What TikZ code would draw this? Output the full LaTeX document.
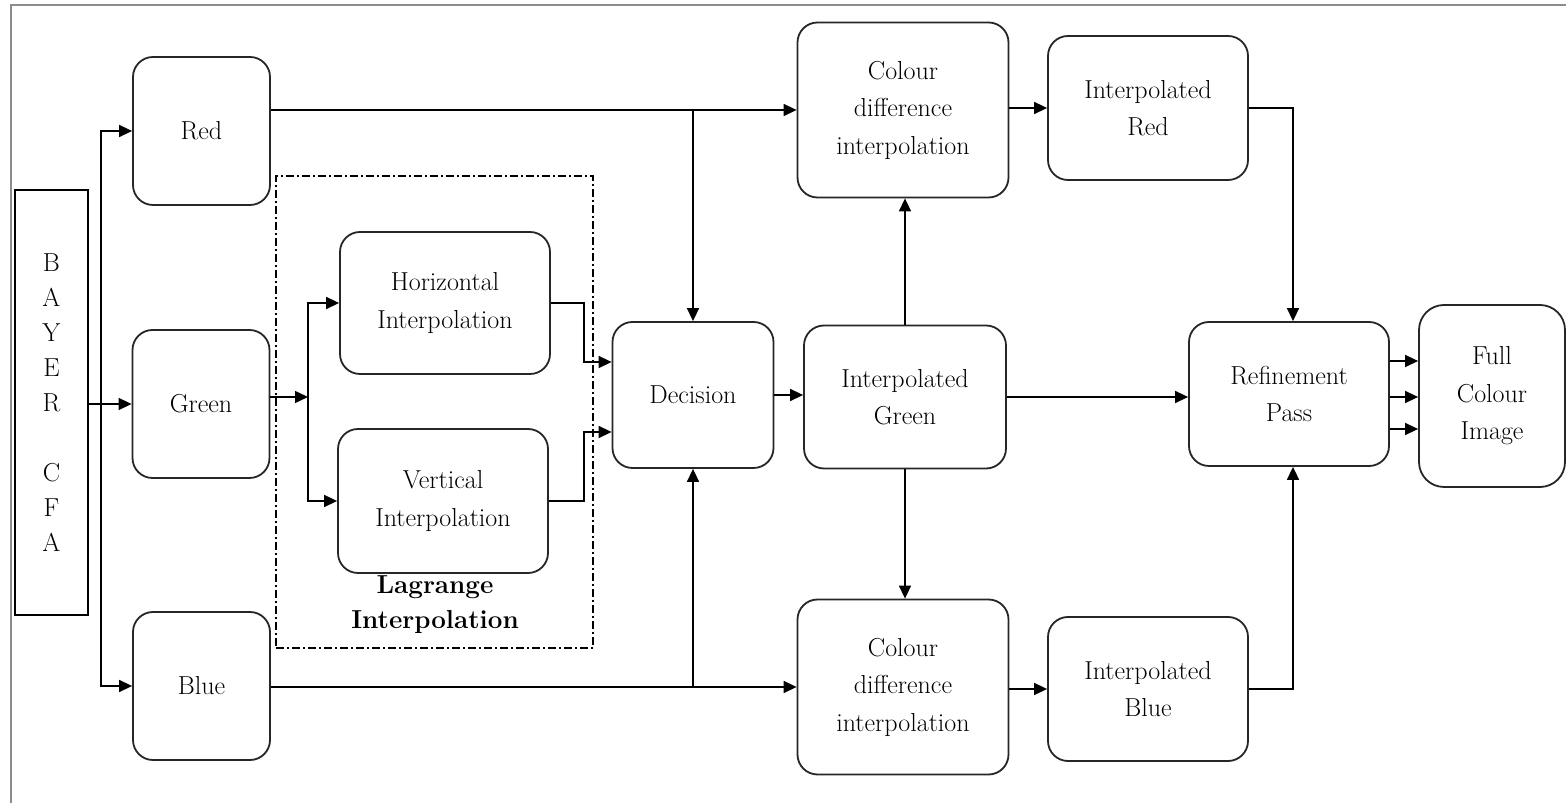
\documentclass[tikz,border=0pt]{standalone}
\usepackage{tikz}
\usetikzlibrary{
    positioning,
    arrows.meta
}
\tikzset{
    >={Triangle[length=13pt,width=12pt]},
    block/.style={
        draw=black!85,
        line width=1.8pt,
        rounded corners=20pt,
        align=center,
        inner sep=2pt,
        font=\fontsize{26pt}{37.5pt}\selectfont
    },
    channel/.style={block, minimum width=137pt, minimum height=148pt},
    interp/.style={block, minimum width=200pt, minimum height=144pt},
    colourdiff/.style={block, minimum width=211pt, minimum height=175pt},
    groupbox/.style={
        draw,
        line width=1.2pt,
        dash pattern=on 8pt off 3pt on 2pt off 3pt
    }
}

\begin{document}
\begin{tikzpicture}[
    x=1pt,
    y=1pt,
    line width=1.5pt
]

    \useasboundingbox (0,0) rectangle (1566,803);

    % Marco
    \draw[black!45, line width=2pt] (1566,798) -- (11,798) -- (11,0);

    % Entrada
    \node[draw, line width=1.5pt, minimum width=73pt, minimum height=425pt,
          align=center, font=\fontsize{26pt}{35pt}\selectfont]
                                     (bayer)  at (51.5,400.5)
        {B\\A\\Y\\E\\R\\[35pt]C\\F\\A};

    % Canales
    \node[channel]                   (red)    at (201.5,672)  {Red};
    \node[channel]                   (green)  at (201,399)    {Green};
    \node[channel]                   (blue)   at (201.5,117)  {Blue};

    % Interpolacion de Lagrange
    \node[groupbox, minimum width=317pt, minimum height=472pt]
                                     (lagrange) at (434.5,391) {};
    \node[block, minimum width=210pt, minimum height=142pt]
                                     (horiz)  at (445,500)
        {Horizontal\\Interpolation};
    \node[block, minimum width=210pt, minimum height=144pt]
                                     (vert)   at (443,302)
        {Vertical\\Interpolation};
    \node[align=center, font=\fontsize{26pt}{35pt}\selectfont\bfseries]
                                     (lagrangelbl) at (435,198.5)
        {Lagrange\\Interpolation};

    % Decision y verde
    \node[block, minimum width=161pt, minimum height=146pt]
                                     (decision) at (693,408) {Decision};
    \node[block, minimum width=202pt, minimum height=143pt]
                                     (igreen) at (905,406)
        {Interpolated\\Green};

    % Diferencia de color
    \node[colourdiff]                (cdred)  at (903,693)
        {Colour\\difference\\interpolation};
    \node[colourdiff]                (cdblue) at (903,116)
        {Colour\\difference\\interpolation};

    \node[interp]                    (ired)   at (1148,695)
        {Interpolated\\Red};
    \node[interp]                    (iblue)  at (1148,114)
        {Interpolated\\Blue};

    % Salida
    \node[interp]                    (refine) at (1289,409)
        {Refinement\\Pass};
    \node[block, rounded corners=25pt, minimum width=146pt, minimum height=182pt]
                                     (full)   at (1492,407)
        {Full\\Colour\\Image};

    % Puntos de bifurcacion
    \coordinate (split)  at (101,399);
    \coordinate (gsplit) at (308,406);

    % Conexiones
    \draw[->] (bayer.east |- green) -- (green);
    \draw[->] (split) |- (red);
    \draw[->] (split) |- (blue);

    \draw[->] (green.east |- gsplit) -- (gsplit);
    \draw[->] (gsplit) |- (horiz);
    \draw[->] (gsplit) |- (vert);

    \draw[->] (horiz.east) -- ++(33,0) |- ([yshift=33pt]decision.west);
    \draw[->] (vert.east) -- ++(35,0) |- ([yshift=-37pt]decision.west);

    \draw[->] (red.east |- cdred) -- (cdred);
    \draw[->] (decision |- cdred) -- (decision);
    \draw[->] (blue.east |- cdblue) -- (cdblue);
    \draw[->] (decision |- cdblue) -- (decision);

    \draw[->] (decision.east) -- (igreen.west |- decision.east);
    \draw[->] (igreen.north) -- (igreen.north |- cdred.south);
    \draw[->] (igreen.south) -- (igreen.south |- cdblue.north);

    \draw[->] (cdred.east |- ired) -- (ired);
    \draw[->] (cdblue.east |- iblue) -- (iblue);

    \draw[->] (ired.east) -| ([xshift=4pt]refine.north);
    \draw[->] (iblue.east) -| ([xshift=4pt]refine.south);
    \draw[->] (igreen.east) -- (refine.west |- igreen.east);

    \draw[->] ([yshift=33pt]refine.east) -- ([yshift=33pt]refine.east -| full.west);
    \draw[->] ([yshift=-3pt]refine.east) -- ([yshift=-3pt]refine.east -| full.west);
    \draw[->] ([yshift=-35pt]refine.east) -- ([yshift=-35pt]refine.east -| full.west);

\end{tikzpicture}
\end{document}
